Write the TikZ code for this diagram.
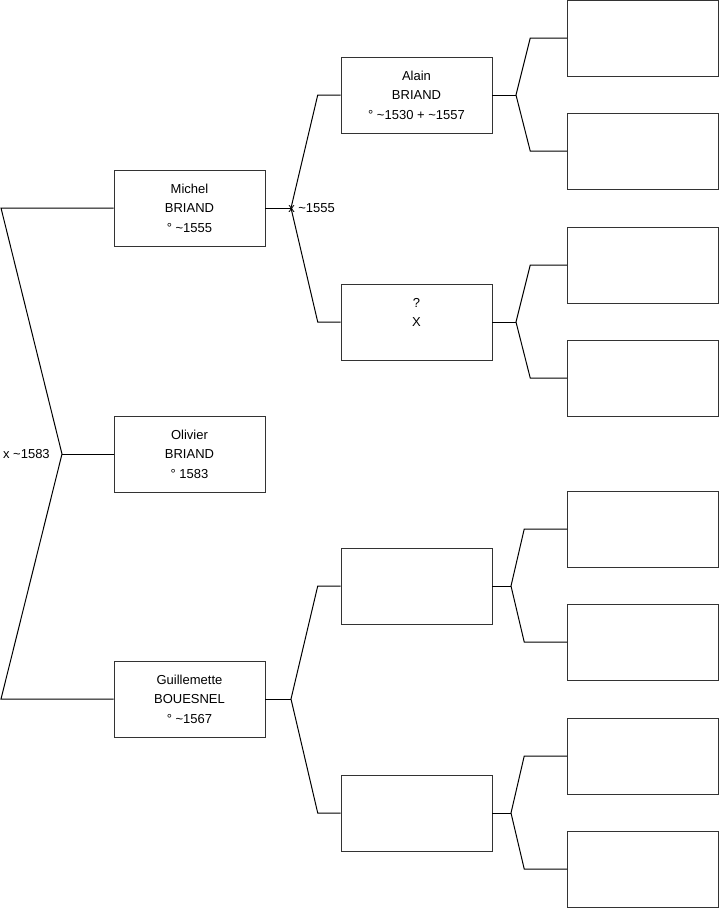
\documentclass[tikz,border=0pt]{standalone}
\usepackage{fontspec}
\setmainfont{Liberation Sans}
\usetikzlibrary{calc,positioning}
\definecolor{Ink}{HTML}{000000}
\definecolor{Frame}{HTML}{333333}
\tikzset{
  person/.style={
    draw=Frame, fill=white, minimum width=113.25pt, minimum height=57pt,
    inner sep=0pt, align=center, font=\fontsize{9.75}{14.6}\selectfont
  },
  branch/.style={draw=Ink, line width=0.75pt},
  union/.style={font=\fontsize{9.75}{12}\selectfont, inner sep=0pt}
}
\newcommand{\tld}{\textasciitilde}

\begin{document}
\begin{tikzpicture}[x=0.75pt,y=-0.75pt]
    \useasboundingbox (0,0) rectangle (719,908);
    % generation 1 and 2
    \node[person] (olivier) at (189.5,454) {Olivier\\BRIAND\\° 1583};
    \node[person] (michel) at (189.5,208) {Michel\\BRIAND\\° \tld1555};
    \node[person] (guillemette) at (189.5,699) {Guillemette\\BOUESNEL\\° \tld1567};
    % generation 3
    \node[person] (alain) at (416.5,95) {Alain\\BRIAND\\° \tld1530 + \tld1557};
    \node[person] (unknown) at (416.5,322) {?\\X\\\mbox{}};
    \node[person] (gfather) at (416.5,586) {};
    \node[person] (gmother) at (416.5,813) {};
    % generation 4
    \node[person] (aa) at (643,38) {};
    \node[person] (ab) at (643,151) {};
    \node[person] (ua) at (643,265) {};
    \node[person] (ub) at (643,378) {};
    \node[person] (fa) at (643,529) {};
    \node[person] (fb) at (643,642) {};
    \node[person] (ma) at (643,756) {};
    \node[person] (mb) at (643,869) {};

    % parents of Olivier
    \coordinate (j0) at (62,454);
    \coordinate (top0) at (1,208);
    \coordinate (bot0) at (1,699);
    \draw[branch] (michel.west) -- (top0) -- (j0) -- (bot0) -- (guillemette.west);
    \draw[branch] (j0) -- (olivier.west);
    \node[union,left=9pt of j0] (m0) {x \tld1583};

    % parents of Michel
    \coordinate (j1) at (291,208);
    \draw[branch] (michel.east) -- (j1);
    \draw[branch] (alain.west) -- ++(-23,0) -- (j1) -- ($(unknown.west)+(-23,0)$) -- (unknown.west);
    \node[union,anchor=west] (m1) at (288,208) {x \tld1555};

    % parents of Guillemette
    \coordinate (j2) at (291,699);
    \draw[branch] (guillemette.east) -- (j2);
    \draw[branch] (gfather.west) -- ++(-23,0) -- (j2) -- ($(gmother.west)+(-23,0)$) -- (gmother.west);

    % parents of Alain
    \coordinate (j3) at (516,95);
    \draw[branch] (alain.east) -- (j3);
    \draw[branch] (aa.west) -- ++(-37,0) -- (j3) -- ($(ab.west)+(-37,0)$) -- (ab.west);

    % parents of ?
    \coordinate (j4) at (516,322);
    \draw[branch] (unknown.east) -- (j4);
    \draw[branch] (ua.west) -- ++(-37,0) -- (j4) -- ($(ub.west)+(-37,0)$) -- (ub.west);

    % parents of the father of Guillemette
    \coordinate (j5) at (511,586);
    \draw[branch] (gfather.east) -- (j5);
    \draw[branch] (fa.west) -- ++(-43,0) -- (j5) -- ($(fb.west)+(-43,0)$) -- (fb.west);

    % parents of the mother of Guillemette
    \coordinate (j6) at (511,813);
    \draw[branch] (gmother.east) -- (j6);
    \draw[branch] (ma.west) -- ++(-43,0) -- (j6) -- ($(mb.west)+(-43,0)$) -- (mb.west);
\end{tikzpicture}
\end{document}
